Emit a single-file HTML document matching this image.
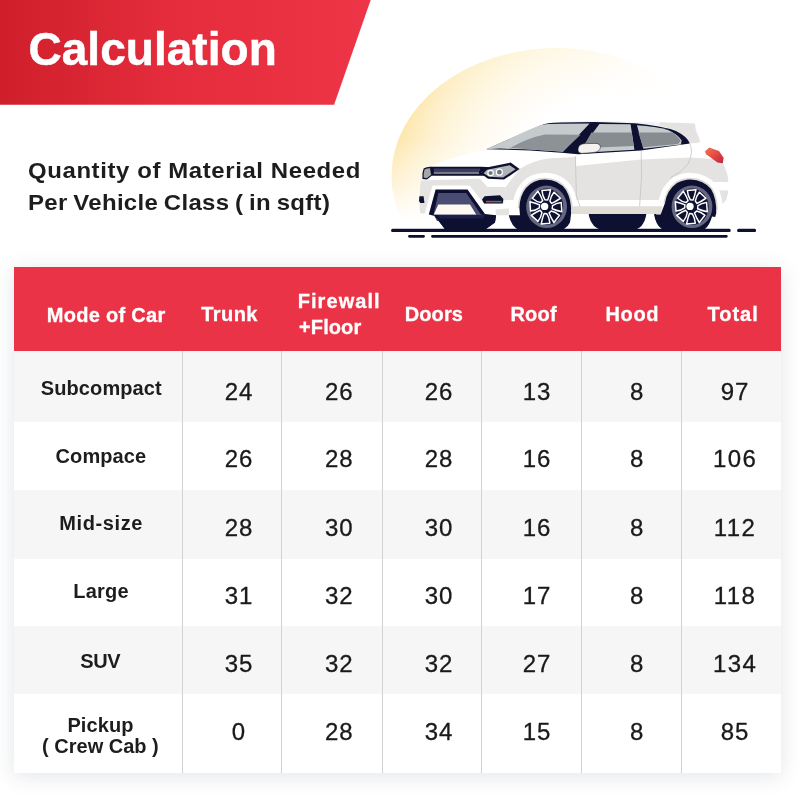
<!DOCTYPE html>
<html><head><meta charset="utf-8"><title>Calculation</title>
<style>
*{box-sizing:border-box;margin:0;padding:0}
html,body{width:800px;height:800px;background:#fff;overflow:hidden}
body{position:relative;font-family:"Liberation Sans",sans-serif;color:#1c1c1c}
.banner{position:absolute;left:0;top:0;width:372px;height:104.7px;background:linear-gradient(90deg,#cf1f2b 0%,#e42c3c 45%,#ee3547 100%);clip-path:polygon(0 0,370.7px 0,334.1px 104.7px,0 104.7px)}
.title{position:absolute;left:28.5px;top:20.5px;font-size:46px;font-weight:700;color:#fff;line-height:56px;white-space:nowrap;letter-spacing:.03px;-webkit-text-stroke:.5px #fff}
.sub{position:absolute;left:27.6px;transform:scaleX(1.08);transform-origin:0 0;font-size:22.2px;font-weight:700;line-height:30px;color:#1d1d1d;white-space:nowrap}
.s1{top:155.9px;letter-spacing:.55px}
.s2{top:188.4px;letter-spacing:.3px;word-spacing:-1.2px}
.car{position:absolute;left:360px;top:40px;width:440px;height:230px}
.tbl{position:absolute;left:14.1px;top:267.4px;width:766.5px;height:505.4px;background:#fff;box-shadow:0 3px 20px rgba(30,45,80,.13)}
.hd{position:absolute;left:0;top:0;width:766.5px;height:84px;background:#ea3346}
.row{position:absolute;left:0;width:766.5px}
.g{background:#f6f6f6}
.vl{position:absolute;top:84px;width:1px;height:421.4px;background:#d2d2d2}
.c{position:absolute;text-align:center;white-space:nowrap}
.h{color:#fff;font-weight:700;font-size:20px;line-height:20px;-webkit-text-stroke:.3px #fff}
.n{font-size:24px;line-height:24px;color:#1a1a1a;-webkit-text-stroke:.3px #1a1a1a}
.l{font-size:20px;font-weight:700;line-height:20px;color:#1d1d1d}
</style></head><body>
<div class="banner"></div>
<div class="title">Calculation</div>
<div class="sub s1">Quantity of Material Needed</div>
<div class="sub s2">Per Vehicle Class ( in sqft)</div>
<svg class="car" viewBox="360 40 440 230">
<defs>
<radialGradient id="sun" gradientUnits="userSpaceOnUse" cx="612" cy="208" r="221">
<stop offset=".5" stop-color="#ffffff"/><stop offset=".68" stop-color="#fffbf0"/><stop offset=".82" stop-color="#fef5dc"/><stop offset=".93" stop-color="#fdeec6"/><stop offset="1" stop-color="#fde8b0"/>
</radialGradient>
<linearGradient id="fade" gradientUnits="userSpaceOnUse" x1="0" y1="140" x2="0" y2="222">
<stop offset="0" stop-color="#fff"/><stop offset=".55" stop-color="#fff" stop-opacity=".5"/><stop offset="1" stop-color="#fff" stop-opacity="0"/>
</linearGradient>
<linearGradient id="fadeR" gradientUnits="userSpaceOnUse" x1="585" y1="0" x2="678" y2="0">
<stop offset="0" stop-color="#fff" stop-opacity="0"/><stop offset="1" stop-color="#fff"/>
</linearGradient>
<mask id="sunmask" maskUnits="userSpaceOnUse" x="360" y="40" width="440" height="230"><rect x="360" y="40" width="440" height="230" fill="url(#fade)"/></mask>
<linearGradient id="tail" x1="0" y1="0" x2="1" y2="1">
<stop offset="0" stop-color="#f07a55"/><stop offset=".55" stop-color="#e4453f"/><stop offset="1" stop-color="#b9244a"/>
</linearGradient>
<g id="wheel">
<ellipse cx="0" cy="0" rx="20.4" ry="21.2" fill="#65667f"/>
<ellipse cx="0" cy="0" rx="16.6" ry="18.2" fill="#0e1131"/>
<g fill="none" stroke="#fff" stroke-width="1.45" stroke-linejoin="round" transform="translate(-.7 0) scale(1,1.07)">
<path id="spk" d="M-1 -6.6Q-3.4 -10 -4 -15.3L4.7 -16Q3.4 -10 1.8 -6.3Z"/>
<use href="#spk" transform="rotate(45)"/><use href="#spk" transform="rotate(90)"/><use href="#spk" transform="rotate(135)"/>
<use href="#spk" transform="rotate(180)"/><use href="#spk" transform="rotate(225)"/><use href="#spk" transform="rotate(270)"/><use href="#spk" transform="rotate(315)"/>
</g>
<circle cx="-2" cy="-.4" r="3.7" fill="#fff"/>
</g>
</defs>
<!-- sun -->
<g mask="url(#sunmask)"><ellipse cx="557" cy="176" rx="165.5" ry="128" fill="url(#sun)"/></g>
<rect x="585" y="40" width="215" height="180" fill="url(#fadeR)"/>
<!-- ground lines -->
<g stroke="#0d1030" stroke-linecap="round" fill="none">
<path d="M392.6 230.4H729.2M738.6 230.4H754.6" stroke-width="3.1"/>
<path d="M409.4 236.3H423.6M432.4 236.3H726.4" stroke-width="2.7"/>
</g>
<!-- far side wheels -->
<path d="M588.5 213C590 224 596 230.5 606 230.5H630C640 230.5 645 224 646.5 213Z" fill="#0d1030"/>
<path d="M654 213C655 222 659 230.5 668 230.5H700V213Z" fill="#0d1030"/>
<!-- body base -->
<path d="M420.2 213L419.4 205L420 187.5L422 180L423 169L431 166.6L442 161.4L462.5 155.6L487 149.4L540.5 125.3Q546 122.4 560 122L594.5 121L640 121.6L695 123.6L695.8 130L699.5 139L710 146.5L722.5 160L727.5 175L729 186L728 192.5L726 200L721 206L716 210L715 215H660V214H571V215.2H496L495 222H436L428.8 214.4Z" fill="#fff"/>
<!-- side shading -->
<path d="M504 200L506 186.4L519.6 169Q532 160.6 548 158.4L576 157L576 166L641 159.6L690 157.6L722 159.4L727.5 175L729 186L728 192.5L726 200Z" fill="#e4e3e1"/>
<path d="M716 210L721 206L726 200L728 192.5H700V210Z" fill="#e4e3e1"/>
<path d="M706 182H729.2V190.4H706Z" fill="#fff"/>
<!-- front shading -->
<path d="M421 180.6L480 178.8L487.5 187L506 187L504 203.6H484L470 186H436L428.8 214.4L420.2 213L419.4 205L420 187.5Z" fill="#e4e3e1"/>
<path d="M495.6 209.4L509 208.4L508.8 215.2H496Z" fill="#e4e3e1"/>
<!-- white frame round intake -->
<path d="M428.2 216L435.6 189.4H467.5L486 216" fill="none" stroke="#fff" stroke-width="8" stroke-linejoin="miter"/>
<!-- wheel arch flares -->
<g fill="none" stroke="#fff" stroke-width="13.5">
<path d="M519.6 217L519.4 208Q519.6 196 526 188Q533 179.4 545 179.4Q559 179.6 566 190Q571.4 199 571.2 216"/>
<path d="M662.6 217L665 203Q667 190 677 183Q684 179.4 690 179.4Q704 180 711 189Q716.5 198 716.3 213"/>
</g>
<path d="M572.4 206.2H662.4L660.6 214H571.6Z" fill="#e1ded8"/>
<g fill="none" stroke="#dcd9d3" stroke-width="3.2">
<path d="M519.4 208Q519.6 196 526 188Q533 179.4 545 179.4Q559 179.6 566 190Q571.4 199 571.2 210"/>
<path d="M665 203Q667 190 677 183Q684 179.4 690 179.4Q704 180 711 189Q716.5 198 716.3 210"/>
</g>
<!-- arches dark + tires -->
<path d="M520 215.2L519.4 208Q519.6 196 526 188Q533 179.4 545 179.4Q559 179.6 566 190Q571.4 199 571.2 213L570 222.5Q566 230.6 556 230.6H519.5Q511 226 508.8 215.2Z" fill="#0d1030"/>
<path d="M660.6 214.6L665 203Q667 190 677 183Q684 179.4 690 179.4Q704 180 711 189Q716.5 198 716.3 213L715.2 217L712 216.6Q708 230.6 700 230.6H664.5Q656.5 226 654.4 214.6Z" fill="#0d1030"/>
<use href="#wheel" x="546.6" y="206.8"/>
<use href="#wheel" x="692" y="206.8"/>
<!-- bumper intake -->
<path d="M428.8 214.4L435.6 189.4H467.5L485 214L496 215.2L495 222.5L483.8 230.4H446L435 216Z" fill="#0d1030"/>
<path d="M433.5 214.4L438.4 193H466.2L481 214.4L485.5 215L481 221H437Z" fill="#4b4c74"/>
<path d="M433.8 214.4L438.2 204.4H470L476.2 214.4Z" fill="#fdf9f0"/>
<path d="M434 215H485.2L496 215.4L495 222.5L483.8 230.4H446Z" fill="#0d1030"/>
<path d="M437.6 215H485L483 218.6H440Z" fill="#1a1e48"/>
<!-- fog lights -->
<path d="M482 199.6L484.6 196.2L500 195.2L503.4 199L502.6 203.6H484Z" fill="#0d1030"/>
<path d="M486 200.8H494V202.4H486Z" fill="#c4473f"/><path d="M494 200.8H501.5V202.4H494Z" fill="#5d7a5a"/>
<path d="M419.4 196.2H423.6L424.4 203H420.4L419 201Z" fill="#0d1030"/>
<!-- grille -->
<path d="M430 166.8H482L489 167.2L481 172.6L485 175.8H431.6Z" fill="#0d1030"/>
<path d="M433.8 168.6H480V171H433.8Z" fill="#3a3b5e"/>
<path d="M433.8 171.6H479V174.1H433.8Z" fill="#77777d"/>
<path d="M423.6 168.6Q426 167 430.6 166.8L432 175.6L427 179.6L422.4 179Q421.8 173 423.6 168.6Z" fill="#0d1030"/>
<path d="M424.6 169.4Q427 168.2 430 168.2L431 175L426.6 178.2L423.6 177.6Q423.2 173 424.6 169.4Z" fill="#a4a7a8"/>
<!-- headlight -->
<path d="M480.6 173.2L485.4 167.8L510.6 162.6L519.6 169L504 179.6L488 178.8Z" fill="#0d1030"/>
<path d="M483.6 173.2L487 169.8L509.6 165.2L515.6 169.2L503 177.6L489 176.8Z" fill="#aeb4b7"/>
<circle cx="490.6" cy="173" r="2.7" fill="#71787c" stroke="#fff" stroke-width="1.2"/>
<circle cx="499.4" cy="172.2" r="3" fill="#71787c" stroke="#fff" stroke-width="1.2"/>
<!-- roof / c-pillar shade -->
<path d="M560 121.4L600 121L662 122.4L662 126.4Q650 124.4 635 123.2L600 122.4L560 122.8Z" fill="#f3f2f0"/>
<path d="M660 122.3L695 123.4L695.8 130L699.5 139L699.8 142.6L689.8 143.6Q688 137 676 131Q670 128 660 126Z" fill="#e4e3e1"/>
<!-- windows frame -->
<path d="M486.4 149.2L540.5 125.4Q546 122.8 560 122.6L594.5 122L635 123.2Q662 125.6 676 131Q688 137 689.8 143.6L641 150.4L578 154.2L561.6 152.8L530 150.4Z" fill="#0d1030"/>
<!-- windshield -->
<path d="M486.2 149.3L512 137.6Q530 129 540.4 125.2Q546 123.8 560 123.8L589.6 123.4L563 151.8L530 149.6L500 148.6Z" fill="#c5cacc"/>
<path d="M510.5 147.8Q528 138 545 134.6L580.6 134.8L563 151.4L530 149.4Z" fill="#8c9295"/>
<!-- front side window -->
<path d="M599.4 124L630.6 124.2L634.4 149.8L600 151.8L582.6 152.4L584 145Z" fill="#c5cacc"/>
<path d="M591.4 132.6L631.6 132.4L633.8 146L596 147.4L583 147.6Z" fill="#868c8f"/>
<!-- rear window -->
<path d="M637 125.2Q656 126.2 668 130Q678 134.4 681.6 140.6L681 144.6L643.4 148.8Z" fill="#c5cacc"/>
<path d="M638.4 132.4L672 132.6Q678 136 680.6 141L678 144L643 147.2Z" fill="#868c8f"/>
<!-- mirror -->
<path d="M578 149Q578.6 144 585 143.6L596 143.4Q600.6 143.8 600.4 147.4Q600 151.6 594 152.4L582 153.4Q577.6 153.2 578 149Z" fill="#f4f2ee" stroke="#0d1030" stroke-width=".5"/>
<!-- door seams -->
<path d="M575.4 156L576.4 196L580 206.4M641.2 151L641.6 176L639.6 206.4M689.8 144Q694 152 688 164Q682 172 670 178" fill="none" stroke="#c4c4c2" stroke-width=".8"/>
<!-- tail light -->
<path d="M704.8 151.4L709.2 147.6L719 151L723.6 157.8L722.8 163.2L717.4 162.4L706.2 154.2Z" fill="url(#tail)"/>
</svg>

<div class="tbl">
<div class="hd"></div>
<div class="row g" style="top:84.0px;height:71.0px"></div>
<div class="row" style="top:155.0px;height:68.0px"></div>
<div class="row g" style="top:223.0px;height:68.4px"></div>
<div class="row" style="top:291.4px;height:67.7px"></div>
<div class="row g" style="top:359.1px;height:68.0px"></div>
<div class="row" style="top:427.1px;height:78.3px"></div>
<div class="vl" style="left:168.0px"></div>
<div class="vl" style="left:267.1px"></div>
<div class="vl" style="left:367.9px"></div>
<div class="vl" style="left:467.2px"></div>
<div class="vl" style="left:567.2px"></div>
<div class="vl" style="left:667.2px"></div>
<div class="c h" style="left:-7.9px;top:37.27px;width:200px;letter-spacing:0.3px;">Mode of Car</div>
<div class="c h" style="left:115.5px;top:37.07px;width:200px;letter-spacing:0.4px;">Trunk</div>
<div class="c h" style="left:225.1px;top:23.67px;width:200px;letter-spacing:1.05px;">Firewall</div>
<div class="c h" style="left:216.1px;top:49.77px;width:200px;letter-spacing:0.1px;">+Floor</div>
<div class="c h" style="left:319.8px;top:36.67px;width:200px;letter-spacing:0.1px;">Doors</div>
<div class="c h" style="left:419.6px;top:36.67px;width:200px;letter-spacing:0.25px;">Roof</div>
<div class="c h" style="left:518.2px;top:36.67px;width:200px;letter-spacing:0.6px;">Hood</div>
<div class="c h" style="left:619.0px;top:36.67px;width:200px;letter-spacing:1.0px;">Total</div>
<div class="c l" style="left:-12.8px;top:110.37px;width:200px;letter-spacing:0.1px;">Subcompact</div>
<div class="c l" style="left:-13.2px;top:178.42px;width:200px;letter-spacing:0.1px;">Compace</div>
<div class="c l" style="left:-12.9px;top:245.47px;width:200px;letter-spacing:0.6px;">Mid-size</div>
<div class="c l" style="left:-13.0px;top:313.47px;width:200px;letter-spacing:0.2px;">Large</div>
<div class="c l" style="left:-13.9px;top:383.17px;width:200px;letter-spacing:-0.4px;">SUV</div>
<div class="c l" style="left:-13.6px;top:447.77px;width:200px;letter-spacing:0.1px;">Pickup</div>
<div class="c l" style="left:-13.7px;top:468.67px;width:200px;letter-spacing:0px;">( Crew Cab )</div>
<div class="c n" style="left:124.8px;top:112.48px;width:200px;letter-spacing:0.9px;">24</div>
<div class="c n" style="left:225.2px;top:112.48px;width:200px;letter-spacing:0.9px;">26</div>
<div class="c n" style="left:325.0px;top:112.48px;width:200px;letter-spacing:0.9px;">26</div>
<div class="c n" style="left:422.8px;top:112.48px;width:200px;letter-spacing:0.9px;">13</div>
<div class="c n" style="left:522.7px;top:112.48px;width:200px;">8</div>
<div class="c n" style="left:620.8px;top:112.48px;width:200px;letter-spacing:0.9px;">97</div>
<div class="c n" style="left:124.8px;top:179.98px;width:200px;letter-spacing:0.9px;">26</div>
<div class="c n" style="left:225.2px;top:179.98px;width:200px;letter-spacing:0.9px;">28</div>
<div class="c n" style="left:325.0px;top:179.98px;width:200px;letter-spacing:0.9px;">28</div>
<div class="c n" style="left:422.8px;top:179.98px;width:200px;letter-spacing:0.9px;">16</div>
<div class="c n" style="left:522.7px;top:179.98px;width:200px;">8</div>
<div class="c n" style="left:621.0px;top:179.98px;width:200px;letter-spacing:1.4px;">106</div>
<div class="c n" style="left:124.8px;top:248.28px;width:200px;letter-spacing:0.9px;">28</div>
<div class="c n" style="left:225.2px;top:248.28px;width:200px;letter-spacing:0.9px;">30</div>
<div class="c n" style="left:325.0px;top:248.28px;width:200px;letter-spacing:0.9px;">30</div>
<div class="c n" style="left:422.8px;top:248.28px;width:200px;letter-spacing:0.9px;">16</div>
<div class="c n" style="left:522.7px;top:248.28px;width:200px;">8</div>
<div class="c n" style="left:621.0px;top:248.28px;width:200px;letter-spacing:1.4px;">112</div>
<div class="c n" style="left:124.8px;top:316.28px;width:200px;letter-spacing:0.9px;">31</div>
<div class="c n" style="left:225.2px;top:316.28px;width:200px;letter-spacing:0.9px;">32</div>
<div class="c n" style="left:325.0px;top:316.28px;width:200px;letter-spacing:0.9px;">30</div>
<div class="c n" style="left:422.8px;top:316.28px;width:200px;letter-spacing:0.9px;">17</div>
<div class="c n" style="left:522.7px;top:316.28px;width:200px;">8</div>
<div class="c n" style="left:621.0px;top:316.28px;width:200px;letter-spacing:1.4px;">118</div>
<div class="c n" style="left:124.8px;top:384.38px;width:200px;letter-spacing:0.9px;">35</div>
<div class="c n" style="left:225.2px;top:384.38px;width:200px;letter-spacing:0.9px;">32</div>
<div class="c n" style="left:325.0px;top:384.38px;width:200px;letter-spacing:0.9px;">32</div>
<div class="c n" style="left:422.8px;top:384.38px;width:200px;letter-spacing:0.9px;">27</div>
<div class="c n" style="left:522.7px;top:384.38px;width:200px;">8</div>
<div class="c n" style="left:621.0px;top:384.38px;width:200px;letter-spacing:1.4px;">134</div>
<div class="c n" style="left:124.4px;top:452.88px;width:200px;">0</div>
<div class="c n" style="left:225.2px;top:452.88px;width:200px;letter-spacing:0.9px;">28</div>
<div class="c n" style="left:325.0px;top:452.88px;width:200px;letter-spacing:0.9px;">34</div>
<div class="c n" style="left:422.8px;top:452.88px;width:200px;letter-spacing:0.9px;">15</div>
<div class="c n" style="left:522.7px;top:452.88px;width:200px;">8</div>
<div class="c n" style="left:620.8px;top:452.88px;width:200px;letter-spacing:0.9px;">85</div>
</div>
</body></html>
